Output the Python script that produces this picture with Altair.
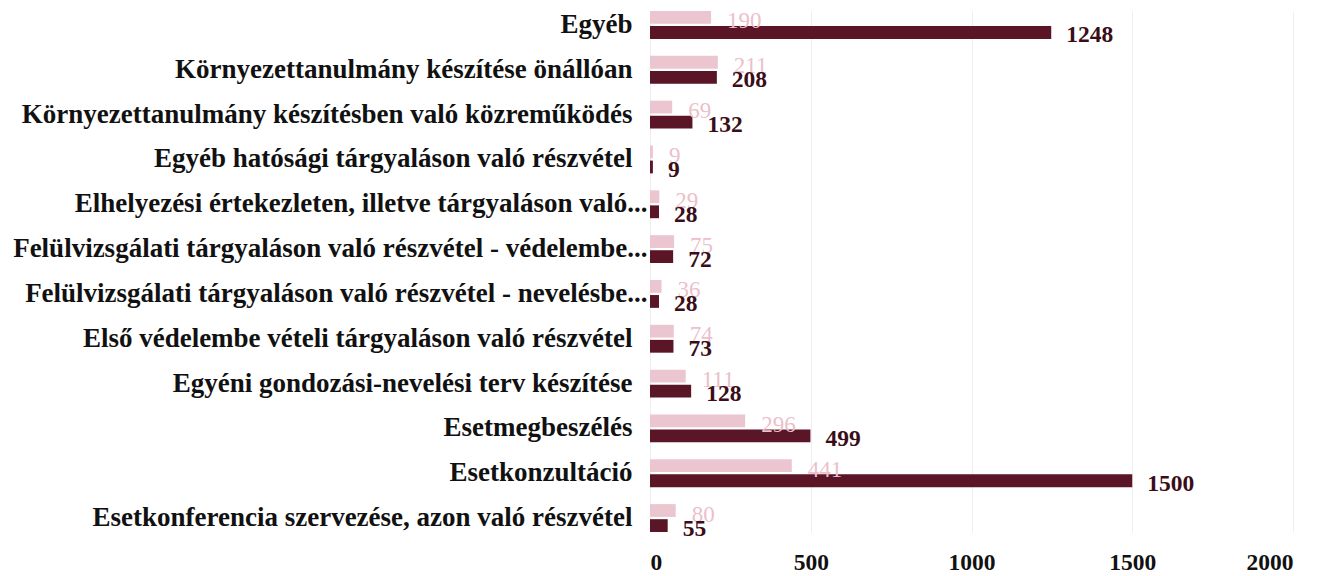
import altair as alt
import pandas as pd

categories = [
    "Egyéb",
    "Környezettanulmány készítése önállóan",
    "Környezettanulmány készítésben való közreműködés",
    "Egyéb hatósági tárgyaláson való részvétel",
    "Elhelyezési értekezleten, illetve tárgyaláson való...",
    "Felülvizsgálati tárgyaláson való részvétel - védelembe...",
    "Felülvizsgálati tárgyaláson való részvétel - nevelésbe...",
    "Első védelembe vételi tárgyaláson való részvétel",
    "Egyéni gondozási-nevelési terv készítése",
    "Esetmegbeszélés",
    "Esetkonzultáció",
    "Esetkonferencia szervezése, azon való részvétel",
]
series_names = ["Sorozat 1", "Sorozat 2"]
light_values = [190, 211, 69, 9, 29, 75, 36, 74, 111, 296, 441, 80]
dark_values = [1248, 208, 132, 9, 28, 72, 28, 73, 128, 499, 1500, 55]
x_ticks = [0, 500, 1000, 1500, 2000]

rows = []
for c, lv, dv in zip(categories, light_values, dark_values):
    rows.append({"cat": c, "series": series_names[0], "value": lv})
    rows.append({"cat": c, "series": series_names[1], "value": dv})
df = pd.DataFrame(rows)

FONT = "Liberation Serif"
LIGHT = "#ebc6d1"
DARK = "#5a1527"

x_enc = alt.X(
    "value:Q",
    scale=alt.Scale(domain=[0, 2000], nice=False),
    axis=alt.Axis(
        values=x_ticks, title=None, ticks=False, domain=False,
        grid=True, gridColor="#eeeeee", gridWidth=1,
        labelFont=FONT, labelFontSize=23.5, labelFontWeight="bold",
        labelColor="#111111", labelPadding=18, format="d",
    ),
)
y_enc = alt.Y(
    "cat:N", sort=categories,
    scale=alt.Scale(paddingInner=0.378, paddingOuter=0),
    axis=alt.Axis(
        title=None, ticks=False, domain=False, labelLimit=700,
        labelFont=FONT, labelFontSize=27, labelFontWeight="bold",
        labelColor="#111111",
        labelPadding={"condition": {"test": "indexof(datum.value, '...') >= 0", "value": 3}, "value": 18},
    ),
)
yoff = alt.YOffset("series:N", sort=series_names, scale=alt.Scale(paddingInner=0.15))

bars = alt.Chart(df).mark_bar().encode(
    x=x_enc, y=y_enc, yOffset=yoff,
    color=alt.Color("series:N", scale=alt.Scale(domain=series_names, range=[LIGHT, DARK]), legend=None),
)

light_text = alt.Chart(df).transform_filter(
    alt.datum.series == series_names[0]
).mark_text(
    align="left", baseline="middle", dx=16, dy=4,
    font=FONT, fontSize=23, color="#ecbfcb",
).encode(x="value:Q", y=alt.Y("cat:N", sort=categories), yOffset=yoff, text="value:Q")

dark_text = alt.Chart(df).transform_filter(
    alt.datum.series == series_names[1]
).mark_text(
    align="left", baseline="middle", dx=15, dy=3,
    font=FONT, fontSize=23.5, fontWeight="bold", color="#3a0d18",
).encode(x="value:Q", y=alt.Y("cat:N", sort=categories), yOffset=yoff, text="value:Q")

chart = alt.layer(bars, light_text, dark_text).properties(
    width=643, height=521,
    autosize=alt.AutoSizeParams(type="none"),
    padding={"left": 642, "top": 3, "right": 33, "bottom": 44},
).configure_view(stroke=None)

chart.save("out.html", embed_options={"renderer": "svg", "actions": False})
